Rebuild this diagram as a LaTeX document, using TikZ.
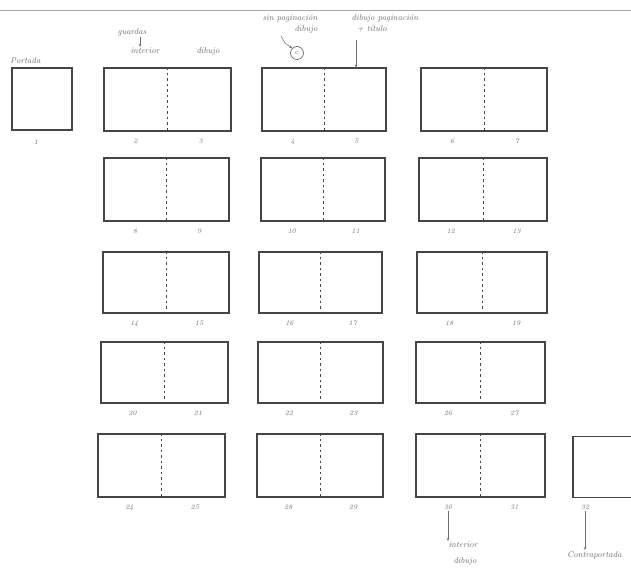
\documentclass[tikz,border=0pt]{standalone}
\usetikzlibrary{calc,arrows.meta}
\definecolor{ink}{HTML}{454545}
\definecolor{pencil}{HTML}{6E6E6E}
\tikzset{
  pagebox/.style={draw=ink, line width=1.1pt, inner sep=0pt},
  fold/.style={draw=ink, line width=0.6pt, dash pattern=on 2.5pt off 3pt},
  num/.style={text=pencil, font=\fontsize{7}{7}\selectfont\itshape, inner sep=1pt},
  hand/.style={text=pencil, font=\fontsize{8.5}{8.5}\selectfont\itshape, inner sep=1pt},
  note/.style={draw=pencil, line width=0.5pt, -{Stealth[length=3pt,width=2.5pt]}}
}
\newcommand\pnl[7]{%
  \node[pagebox, minimum width=#4pt, minimum height=#5pt] (#1) at (#2,#3) {};
  \draw[fold] (#1.north) -- (#1.south);
  \node[num] (#1l) at ($(#1.south west)!0.25!(#1.south east)+(0,10)$) {#6};
  \node[num] (#1r) at ($(#1.south west)!0.76!(#1.south east)+(0,10)$) {#7};
}
\begin{document}
\begin{tikzpicture}[x=1pt,y=-1pt]
\useasboundingbox (0,0) rectangle (631,571);
\clip (0,0) rectangle (631,571);
\fill[white] (0,0) rectangle (631,571);
% page edge line
\coordinate (edgeL) at (0,10);
\coordinate (edgeR) at (631,10);
\draw[pencil!60, line width=0.7pt] (edgeL) -- (edgeR);

% cover
\node[pagebox, minimum width=60pt, minimum height=62pt] (portada) at (42,99) {};
\node[hand, anchor=south west] (portadat) at (9,65) {Portada};
\node[num] (n1) at (36,142) {1};

% row 1
\pnl{p23}{167.5}{99.5}{127}{63}{2}{3}
\pnl{p45}{324}{99.5}{124}{63}{4}{5}
\pnl{p67}{484}{99.5}{126}{63}{6}{7}
% row 2
\pnl{p89}{166.5}{189.5}{125}{63}{8}{9}
\pnl{p1011}{323}{189.5}{124}{63}{10}{11}
\pnl{p1213}{483}{189.5}{128}{63}{12}{13}
% row 3
\pnl{p1415}{166}{282.5}{126}{61}{14}{15}
\pnl{p1617}{320.5}{282.5}{123}{61}{16}{17}
\pnl{p1819}{482}{282.5}{130}{61}{18}{19}
% row 4
\pnl{p2021}{164.5}{372.5}{127}{61}{20}{21}
\pnl{p2223}{320.5}{372.5}{125}{61}{22}{23}
\pnl{p2627}{480.5}{372.5}{129}{61}{26}{27}
% row 5
\pnl{p2425}{161.5}{465.5}{127}{63}{24}{25}
\pnl{p2829}{320}{465.5}{126}{63}{28}{29}
\pnl{p3031}{480.5}{465.5}{129}{63}{30}{31}
% back cover
\node[pagebox, minimum width=67pt, minimum height=61pt] (p32) at (606.5,467) {};
\node[num] (n32) at (585,507) {32};

% top notes
\node[hand] (guardas) at (132,32) {guardas};
\node[hand] (interior) at (145,51) {interior};
\node[hand] (dibujo) at (208,51) {dibujo};
\draw[note] (guardas.south) ++(8,0) coordinate (g1) -- (g1 |- interior.north);

\node[hand] (sinpag) at (290,18) {sin paginación};
\node[hand] (sindib) at (306,29) {dibujo};
\node[draw=pencil, line width=0.7pt, circle, minimum size=13pt, inner sep=0pt, text=pencil, font=\fontsize{7}{7}\selectfont] (cc) at (297,53) {c};
\coordinate (sa) at (281,36);
\coordinate (sb) at (285,43);
\draw[note] (sa) -- (sb) -- (cc.north west);

\node[hand] (dibpag) at (385,18) {dibujo paginación};
\node[hand] (titulo) at (372,29) {+ título};
\coordinate (dp) at (356,40);
\draw[note] (dp) -- (dp |- p45.north);

% bottom notes
\node[hand] (intb) at (463,545) {interior};
\node[hand] (dibb) at (465,561) {dibujo};
\draw[note] (p3031l.south) -- (p3031l.south |- intb.north);

\node[hand, anchor=west] (contra) at (566,555) {Contraportada};
\draw[note] (n32.south) -- (n32.south |- contra.north);
\end{tikzpicture}
\end{document}
